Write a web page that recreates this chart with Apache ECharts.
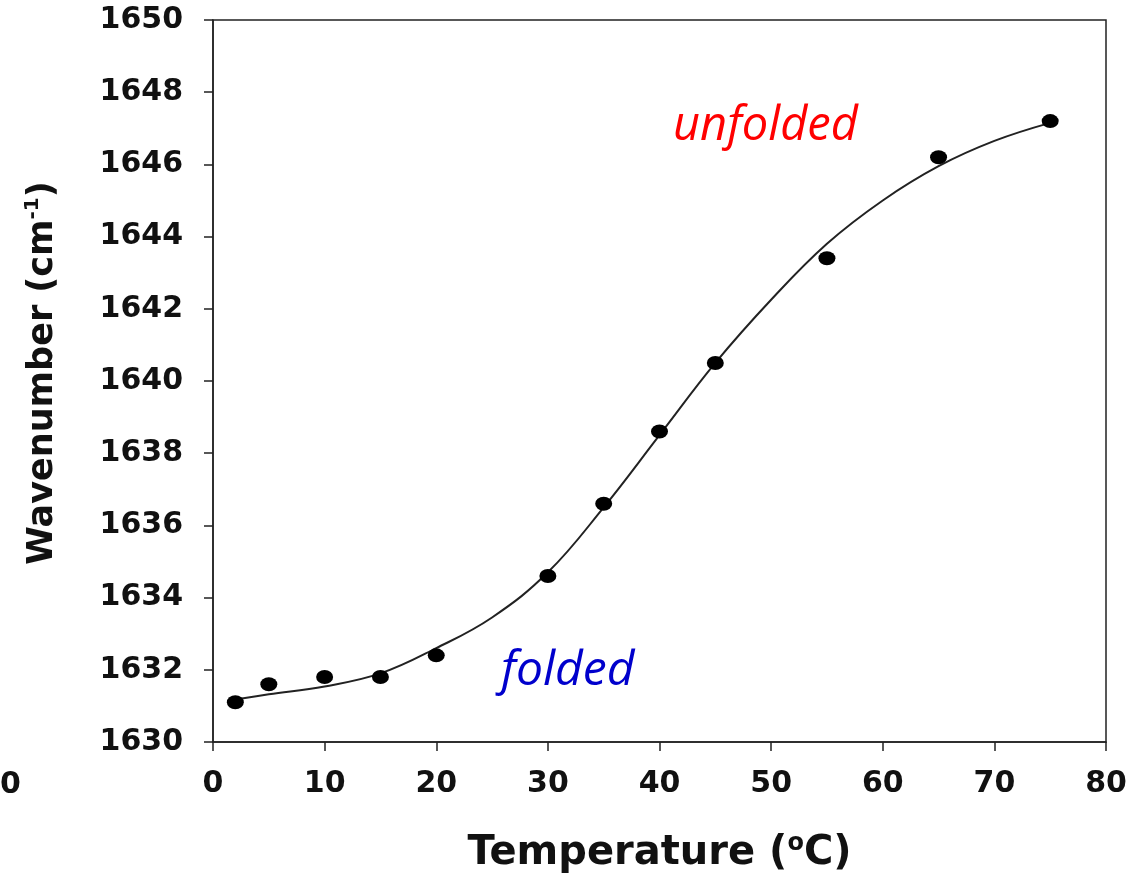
<!DOCTYPE html>
<html>
<head>
<meta charset="utf-8">
<title>Wavenumber vs Temperature</title>
<script src="https://cdn.jsdelivr.net/npm/echarts@6/dist/echarts.min.js"></script>
<style>
    html, body { margin: 0; padding: 0; background: #fff; }
    #main { width: 1148px; height: 879px; }
</style>
</head>
<body>
<div id="main"></div>
<script>
    // measured points
    var temps = [2, 5, 10, 15, 20, 30, 35, 40, 45, 55, 65, 75];
    var wavenumbers = [1631.1, 1631.6, 1631.8, 1631.8, 1632.4, 1634.6, 1636.6, 1638.6, 1640.5, 1643.4, 1646.2, 1647.2];

    // fitted curve
    var fitTemps = [2, 5, 10, 15, 20, 25, 30, 35, 40, 45, 50, 55, 60, 65, 70, 75];
    var fitValues = [1631.18, 1631.32, 1631.54, 1631.9, 1632.6, 1633.45, 1634.7, 1636.5, 1638.5, 1640.5, 1642.25, 1643.8, 1645.0, 1645.95, 1646.65, 1647.15];

    var xTicks = [0, 10, 20, 30, 40, 50, 60, 70, 80];
    var yTicks = [1630, 1632, 1634, 1636, 1638, 1640, 1642, 1644, 1646, 1648, 1650];

    var points = temps.map(function (t, i) { return [t, wavenumbers[i]]; });
    var fit = fitTemps.map(function (t, i) { return [t, fitValues[i]]; });

    var boldFont = 'DejaVu Sans';

    var chart = echarts.init(document.getElementById('main'));
    chart.setOption({
        animation: false,
        backgroundColor: '#fff',
        grid: {
            left: 213,
            top: 20,
            right: 42,
            bottom: 133,
            show: true,
            borderColor: '#222',
            borderWidth: 1.5
        },
        xAxis: {
            type: 'value',
            min: xTicks[0],
            max: xTicks[xTicks.length - 1],
            interval: 10,
            splitLine: { show: false },
            axisLine: { lineStyle: { color: '#222', width: 1.5 } },
            axisTick: { inside: false, length: 9, lineStyle: { color: '#222', width: 1.5 } },
            axisLabel: {
                margin: 27,
                color: '#111',
                fontFamily: boldFont,
                fontWeight: 'bold',
                fontSize: 30
            },
            name: '{t|Temperature (}{s|o}{t|C)}',
            nameLocation: 'middle',
            nameGap: 90,
            nameTextStyle: {
                rich: {
                    t: { fontFamily: boldFont, fontWeight: 'bold', fontSize: 40, lineHeight: 44, color: '#111' },
                    s: { fontFamily: boldFont, fontWeight: 'bold', fontSize: 24, lineHeight: 24, color: '#111', verticalAlign: 'top' }
                }
            }
        },
        yAxis: {
            type: 'value',
            min: yTicks[0],
            max: yTicks[yTicks.length - 1],
            interval: 2,
            splitLine: { show: false },
            axisLine: { lineStyle: { color: '#222', width: 1.5 } },
            axisTick: { inside: false, length: 9, lineStyle: { color: '#222', width: 1.5 } },
            axisLabel: {
                margin: 30,
                color: '#111',
                fontFamily: boldFont,
                fontWeight: 'bold',
                fontSize: 30,
                formatter: function (v) { return String(v); }
            },
            name: '{t|Wavenumber (cm}{s|-1}{t|)}',
            nameLocation: 'middle',
            nameGap: 150,
            nameRotate: 90,
            nameTextStyle: {
                padding: [0, 0, 0, 16],
                rich: {
                    t: { fontFamily: boldFont, fontWeight: 'bold', fontSize: 35, lineHeight: 40, color: '#111' },
                    s: { fontFamily: boldFont, fontWeight: 'bold', fontSize: 20, lineHeight: 20, color: '#111', verticalAlign: 'top' }
                }
            }
        },
        graphic: [
            {
                type: 'text',
                left: 673,
                top: 103,
                style: { text: 'unfolded', fill: '#ff0000', font: 'italic 47px "Open Sans"' }
            },
            {
                type: 'text',
                left: 501,
                top: 647,
                style: { text: 'folded', fill: '#0000cc', font: 'italic 48px "Open Sans"' }
            },
            {
                type: 'text',
                left: 0,
                top: 770,
                style: { text: '0', fill: '#111', font: 'bold 30px "DejaVu Sans"' }
            }
        ],
        series: [
            {
                name: 'fit',
                type: 'line',
                data: fit,
                smooth: 0.4,
                showSymbol: false,
                lineStyle: { color: '#222', width: 2 },
                z: 2
            },
            {
                name: 'data',
                type: 'scatter',
                data: points,
                symbol: 'circle',
                symbolSize: [17, 14],
                itemStyle: { color: '#000', opacity: 1 },
                z: 3
            }
        ]
    });
</script>
</body>
</html>
